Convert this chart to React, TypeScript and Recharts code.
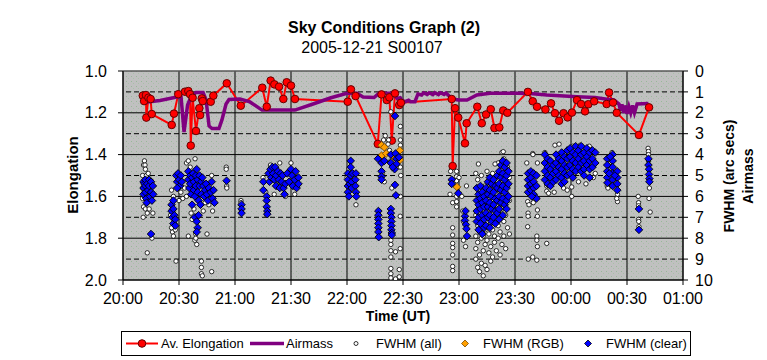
import React from 'react';
import { ComposedChart, Line, Scatter, XAxis, YAxis, CartesianGrid, ReferenceLine } from 'recharts';

const TIME_TICKS = [0, 30, 60, 90, 120, 150, 180, 210, 240, 270, 300];
const TIME_LABELS = ['20:00', '20:30', '21:00', '21:30', '22:00', '22:30', '23:00', '23:30', '00:00', '00:30', '01:00'];
const ELONG_TICKS = [1.0, 1.2, 1.4, 1.6, 1.8, 2.0];
const FWHM_TICKS = [0, 1, 2, 3, 4, 5, 6, 7, 8, 9, 10];
const FWHM_MINOR = [1, 3, 5, 7, 9];

// [minutes after 20:00 UT, elongation]
const AV_ELONGATION: [number, number][] = [
  [10.6, 1.118], [11.3, 1.144], [12.3, 1.115], [12.5, 1.223], [13.6, 1.128], [14.8, 1.134], [15.4, 1.206],
  [26.1, 1.258], [27.3, 1.204], [29.6, 1.111], [33.2, 1.099], [35.0, 1.096], [35.9, 1.111], [36.3, 1.357],
  [37.3, 1.128], [39.1, 1.287], [40.9, 1.178], [41.3, 1.211], [42.2, 1.131], [42.7, 1.144], [47.0, 1.147],
  [48.4, 1.118], [55.6, 1.059], [63.1, 1.166], [74.6, 1.08], [77.0, 1.171], [79.1, 1.046], [81.1, 1.064],
  [83.6, 1.075], [85.9, 1.134], [87.7, 1.054], [90.0, 1.07], [92.1, 1.134], [120.4, 1.147], [122.1, 1.088],
  [124.6, 1.12], [136.5, 1.349], [138.5, 1.112], [141.3, 1.139], [142.7, 1.126], [144.0, 1.333], [145.7, 1.107],
  [148.0, 1.163], [148.9, 1.152], [176.1, 1.134], [176.6, 1.455], [177.9, 1.178], [179.6, 1.223], [183.2, 1.346],
  [184.1, 1.25], [189.8, 1.171], [192.2, 1.25], [194.5, 1.208], [197.0, 1.183], [199.0, 1.273], [201.6, 1.27],
  [203.7, 1.189], [205.9, 1.2], [216.9, 1.1], [219.5, 1.145], [221.8, 1.171], [226.3, 1.184], [229.3, 1.155],
  [231.4, 1.202], [233.6, 1.238], [236.0, 1.202], [238.2, 1.222], [240.5, 1.199], [243.2, 1.139], [245.4, 1.158],
  [247.5, 1.193], [249.3, 1.159], [252.4, 1.145], [259.1, 1.158], [260.4, 1.103], [262.5, 1.151], [264.5, 1.2],
  [276.4, 1.306], [281.8, 1.174],
];

// [minutes after 20:00 UT, airmass]
const AIRMASS: [number, number][] = [
  [10.7, 1.151], [19.8, 1.141], [29.5, 1.123], [31.1, 1.124], [32.7, 1.292], [34.6, 1.163], [36.4, 1.124],
  [39.1, 1.103], [42.9, 1.103], [44.5, 1.139], [46.1, 1.263], [47.7, 1.275], [51.4, 1.275], [53.0, 1.234],
  [55.2, 1.158], [56.8, 1.136], [62.7, 1.134], [68.0, 1.148], [74.5, 1.187], [92.1, 1.187], [101.8, 1.158],
  [111.4, 1.128], [120.0, 1.107], [125.4, 1.107], [128.6, 1.124], [134.5, 1.127], [137.1, 1.107], [144.6, 1.107],
  [146.8, 1.131], [148.5, 1.128], [149.5, 1.14], [151.1, 1.147], [153.0, 1.14], [154.0, 1.147], [156.4, 1.147],
  [158.0, 1.11], [160.0, 1.115], [161.0, 1.105], [163.0, 1.112], [164.0, 1.104], [166.0, 1.113], [167.0, 1.104],
  [169.0, 1.113], [170.0, 1.104], [172.0, 1.112], [173.0, 1.105], [176.1, 1.131], [179.5, 1.139], [184.3, 1.139],
  [189.6, 1.115], [196.6, 1.107], [211.1, 1.107], [218.0, 1.108], [227.1, 1.115], [243.2, 1.123], [252.9, 1.127],
  [259.3, 1.135], [263.0, 1.139], [265.7, 1.158], [266.5, 1.19], [267.3, 1.16], [268.2, 1.2], [269.0, 1.165],
  [270.0, 1.205], [271.0, 1.17], [272.0, 1.2], [273.0, 1.165], [274.0, 1.2], [275.4, 1.158], [281.5, 1.155],
];

// [minutes after 20:00 UT, FWHM arcsec]
const FWHM_ALL: [number, number][] = [
  [11, 4.5], [11.5, 4.3], [10.5, 5.0], [10.5, 5.6], [10.5, 6.1], [11, 6.5], [10.8, 7.0], [12, 6.6], [13, 6.8],
  [12.5, 5.0], [13.5, 4.9], [14, 6.6], [16, 6.8], [13, 8.7], [15.5, 8.0], [11.5, 6.0], [11.8, 4.5], [12, 4.7],
  [26.5, 7.7], [27, 7.9], [26, 7.5], [28, 7.6], [28.4, 9.1], [25.5, 6.9],
  [31, 5.8], [32, 6.1], [33, 5.6], [34, 6.0], [30, 6.2], [27, 6.0], [26, 5.7], [34, 4.4], [35, 4.3], [36, 4.6],
  [38.6, 4.2], [36.5, 6.8], [37, 7.1], [38, 6.6], [38.5, 8.1], [39, 7.8], [39.5, 8.3], [39, 8.0], [42, 9.1],
  [42, 9.4], [42, 9.7], [42.5, 9.8], [47.5, 9.6], [35, 7.9], [45, 7.8], [48, 6.7], [47.5, 5.0], [46, 6.4],
  [43, 6.7], [44, 6.3],
  [55.3, 4.6], [55.3, 4.7], [55.5, 5.5], [55.6, 5.6],
  [63.2, 6.2], [63.2, 6.3],
  [75, 5.1], [77, 6.9], [76.5, 5.8],
  [79, 4.5], [84, 4.4], [90, 4.4], [92, 5.9], [87, 6.0], [81, 5.9],
  [124.8, 6.4], [120, 5.1], [121, 4.7],
  [143.5, 8.1], [143.5, 8.3], [143.5, 8.6], [146, 8.65], [148.5, 8.5], [143.5, 8.9], [143.5, 9.45], [143.5, 9.7],
  [143.5, 9.9], [148, 9.5], [148, 9.85], [146, 9.95], [148.5, 6.95],
  [140.5, 3.1], [139.6, 3.3], [142.3, 3.3], [142.0, 3.5], [142.8, 3.8], [143.5, 4.3], [148.6, 3.3], [148.6, 3.55],
  [148.6, 3.8], [148.6, 4.6], [148.8, 5.0], [143.5, 1.95], [148.6, 2.65], [139, 4.9], [140, 5.3], [144, 5.6], [148.6, 6.0],
  [175.5, 4.8], [175.2, 5.9], [176.6, 6.3], [176.6, 7.5], [176.6, 7.85], [176.6, 8.25], [176.6, 8.45], [176.6, 8.8],
  [176.6, 9.35], [176.6, 9.55], [178.7, 4.8], [178.7, 5.05], [178.7, 5.25], [178.7, 6.0], [178.7, 6.25], [178.7, 6.5],
  [182, 6.7], [182.4, 7.2], [182.4, 8.1], [183.5, 8.4], [180, 5.1], [181.5, 6.0], [184, 5.5], [190.4, 4.45],
  [189, 4.9], [189, 6.9], [189, 7.9], [189, 8.5], [189, 9.0], [190, 5.2], [190, 7.4], [190, 8.2], [190, 9.4],
  [191, 6.0], [191, 7.7], [191, 8.8], [191, 9.6], [192, 5.0], [192, 7.0], [192, 8.0], [192, 9.2],
  [193, 6.5], [193, 7.9], [193, 8.6], [193, 9.8], [194, 5.5], [194, 7.6], [194, 8.3], [194, 9.3],
  [195, 4.8], [195, 7.2], [195, 8.1], [195, 9.5], [196, 6.3], [196, 7.8], [196, 8.7], [197, 5.9], [197, 7.3],
  [197, 8.4], [197, 9.1], [198, 4.9], [198, 7.6], [198, 8.9], [199, 5.6], [199, 7.9], [199, 8.2],
  [200, 6.4], [200, 7.1], [200, 8.6], [201, 4.4], [201, 7.4], [201, 8.0], [202, 5.8], [202, 7.7], [202, 8.8],
  [203, 3.9], [203, 6.6], [203, 8.3], [204, 4.2], [204, 7.2], [204, 7.9], [205, 5.3], [205, 6.9], [205, 8.5],
  [206, 4.6], [206, 7.5], [207, 5.1], [207, 6.2], [207, 7.8], [199.3, 4.45], [203.7, 3.86],
  [216.3, 4.4], [216.8, 6.25], [217, 6.8], [217, 6.95], [216.8, 7.45], [219.5, 3.95], [219.8, 6.3], [222, 4.4],
  [222, 6.65], [222, 6.95], [221.7, 7.9], [221.7, 8.1], [222, 8.4], [219.5, 8.9], [217.1, 9.0], [221.7, 9.05],
  [227, 8.25], [217.5, 6.4], [219.6, 4.0],
  [231.4, 3.55], [233.6, 3.5], [227, 5.5], [227, 5.75], [228, 5.85], [231, 5.8], [240.4, 5.55], [240.4, 6.0],
  [236.5, 3.95], [241, 3.6], [245, 3.55], [249.8, 3.6], [252, 5.1], [253, 4.9], [226, 3.9], [229, 5.3],
  [236, 5.6], [244, 5.3], [248, 5.4], [238, 5.7],
  [259.4, 5.5], [262, 3.9], [264.9, 5.9], [264.9, 6.25], [259.8, 5.6], [264.5, 6.1],
  [276, 6.0], [276.2, 6.3], [276.2, 6.45], [276.2, 7.1], [276.3, 7.2], [276.4, 7.45],
  [281.3, 3.7], [281.5, 3.85], [281.5, 4.0], [282, 5.6], [281.8, 6.1], [282.4, 6.75], [281.5, 4.3],
];

const FWHM_RGB: [number, number][] = [
  [138.5, 3.55], [140, 3.65], [138.5, 4.05], [148.3, 3.8], [148.3, 4.26], [178.9, 5.55], [141, 3.95], [145, 4.1],
];

const FWHM_CLEAR: [number, number][] = [
  [11, 5.3], [11, 5.6], [11, 5.9], [11.5, 5.4], [12, 5.2], [12, 5.5], [12, 5.8], [12.5, 6.1], [12.7, 6.3], [13, 5.4],
  [13.5, 5.7], [14, 5.2], [14, 5.5], [14.5, 6.0], [15, 5.3], [15, 5.8], [15.5, 6.2], [16, 5.5], [16.2, 5.9], [15, 7.8],
  [26, 6.4], [26, 6.7], [26.5, 7.0], [27, 6.6], [27, 7.3], [27.5, 6.9], [28, 7.1], [28, 7.4], [27, 6.2],
  [28.5, 5.0], [29, 5.3], [29.5, 4.9], [30, 5.2], [30.5, 5.5], [31, 5.0], [31.5, 5.3], [29, 5.6],
  [35, 4.8], [35, 5.2], [35.5, 5.6], [36, 5.0], [36, 5.4], [36.5, 5.9], [37, 6.4], [37, 5.1], [37.5, 4.9], [38, 5.3],
  [38, 5.7], [38.5, 6.0], [39, 5.0], [39, 5.5], [39.5, 4.7], [40, 5.2], [40, 5.8], [40.5, 6.2], [41, 5.0], [41, 5.5],
  [41.5, 6.4], [42, 5.3], [42, 5.9], [42.5, 5.1], [43, 5.5], [43.5, 6.0], [44, 5.7], [44.5, 5.4], [45, 5.9], [45.5, 6.2],
  [46, 5.6], [47, 5.8], [47.5, 5.3], [48, 6.1], [48.5, 5.7], [49, 6.3], [38.5, 7.0], [39.5, 7.2], [40, 7.5], [39.5, 7.7],
  [40.5, 6.9],
  [55.5, 5.25],
  [63.5, 6.4], [63.5, 6.6], [63.5, 6.8],
  [75.2, 5.3], [75.2, 5.7], [77, 6.0], [77, 6.2], [77, 6.5], [77.3, 6.7], [77.3, 6.85],
  [78, 4.9], [78.5, 5.3], [79, 4.7], [79.5, 5.1], [80, 4.6], [80.5, 4.9], [81, 5.2], [81.5, 4.6], [82, 5.0], [82, 5.5],
  [83, 4.8], [83.5, 5.2], [84, 5.6], [84.5, 4.9], [85, 5.3], [85.5, 5.0], [86, 5.6], [86.5, 5.9], [87, 5.4], [88, 4.9],
  [89, 5.3], [90, 4.7], [90.5, 5.0], [91, 5.5], [92, 5.2], [92.5, 4.8], [93, 5.6], [94, 5.1], [94, 5.4],
  [120.5, 4.9], [120.5, 5.2], [120.5, 5.5], [120.5, 5.8], [121, 6.0], [121.5, 5.4], [122, 4.3], [122, 4.6], [122, 5.0],
  [122.5, 5.3], [122.5, 5.6], [123, 4.9], [124.5, 5.2], [124.5, 5.5], [124.8, 5.8], [125, 6.0], [124.8, 4.9],
  [136.8, 6.7], [136.8, 6.9], [136.8, 7.1], [136.8, 7.3], [136.8, 7.5], [136.8, 7.7], [137, 7.95],
  [143.5, 6.6], [143.5, 6.8], [143.8, 7.0], [143.8, 7.2], [143.8, 7.4], [143.8, 7.6], [144, 7.75], [144, 7.85],
  [136.6, 4.2], [138.5, 4.4], [138.5, 4.8], [138.5, 5.05], [138.5, 5.2], [143.5, 4.4], [143.5, 4.0], [146, 3.95],
  [146.5, 4.2], [146.5, 4.45], [145.5, 4.7], [147.8, 4.13], [145.7, 5.45], [146.2, 5.95], [145.7, 2.15], [144.5, 4.6], [140, 4.3],
  [176.1, 5.2], [176.1, 5.4], [179.6, 5.85], [183.2, 6.95], [183.2, 7.15], [183.7, 7.35], [184, 7.55], [184.3, 7.9], [183.5, 6.7],
  [189.5, 5.6], [189.5, 6.2], [189.5, 6.7], [189.5, 7.2], [190.5, 5.9], [190.5, 6.4], [190.5, 7.0], [190.5, 7.6],
  [191.5, 5.5], [191.5, 6.1], [191.5, 6.6], [191.5, 7.3], [192.5, 5.8], [192.5, 6.3], [192.5, 6.9], [192.5, 7.8],
  [193.5, 6.0], [193.5, 6.5], [193.5, 7.1], [193.5, 7.5], [194.5, 5.6], [194.5, 6.2], [194.5, 6.8], [194.5, 7.4],
  [195.5, 5.3], [195.5, 5.9], [195.5, 6.5], [195.5, 7.0], [196.5, 5.1], [196.5, 5.7], [196.5, 6.3], [196.5, 6.9],
  [196.5, 7.5], [197.5, 5.4], [197.5, 6.0], [197.5, 6.6], [197.5, 7.2], [198.5, 5.2], [198.5, 5.8], [198.5, 6.4],
  [198.5, 7.0], [199.5, 5.5], [199.5, 6.1], [199.5, 6.7], [199.5, 7.3], [200.5, 5.0], [200.5, 5.6], [200.5, 6.2],
  [200.5, 6.8], [201.5, 4.8], [201.5, 5.4], [201.5, 6.0], [201.5, 6.6], [201.5, 7.1], [202.5, 4.5], [202.5, 5.1],
  [202.5, 5.7], [202.5, 6.3], [203.5, 4.3], [203.5, 4.9], [203.5, 5.5], [203.5, 6.1], [203.5, 6.9], [204.5, 4.6],
  [204.5, 5.2], [204.5, 5.8], [204.5, 6.4], [205.5, 4.4], [205.5, 5.0], [205.5, 5.6], [205.5, 6.2], [205.5, 6.6],
  [206.5, 4.8], [206.5, 5.4], [206.5, 6.0],
  [217, 4.9], [217, 5.2], [217, 5.5], [217, 5.8], [218.5, 4.8], [218.5, 5.1], [218.5, 5.4], [218.5, 5.7], [220, 4.9],
  [220, 5.3], [220, 5.6], [220, 5.9], [221.5, 5.0], [221.5, 5.5], [221.5, 6.1], [219, 6.0],
  [226, 4.0], [226, 4.4], [226, 4.8], [226, 5.2], [227.5, 4.2], [227.5, 4.6], [227.5, 5.0], [227.5, 5.4],
  [229, 4.3], [229, 4.7], [229, 5.1], [229, 5.5], [230.5, 4.5], [230.5, 4.9], [230.5, 5.3], [232, 4.0], [232, 4.4],
  [232, 4.8], [232, 5.2], [233.5, 4.2], [233.5, 4.6], [233.5, 5.0], [235, 3.9], [235, 4.3], [235, 4.7], [235, 5.1],
  [235, 5.4], [236.5, 4.1], [236.5, 4.5], [236.5, 4.9], [236.5, 5.3], [238, 3.8], [238, 4.2], [238, 4.6], [238, 5.0],
  [239.5, 3.7], [239.5, 4.1], [239.5, 4.5], [239.5, 4.9], [241, 3.9], [241, 4.3], [241, 4.7], [241, 5.1],
  [242.5, 3.6], [242.5, 4.0], [242.5, 4.4], [242.5, 4.8], [244, 3.8], [244, 4.2], [244, 4.6], [245.5, 3.6],
  [245.5, 4.0], [245.5, 4.4], [245.5, 4.8], [247, 3.9], [247, 4.3], [247, 4.7], [247, 5.0], [248.5, 3.7],
  [248.5, 4.1], [248.5, 4.5], [250, 3.9], [250, 4.3], [250, 4.7], [250, 5.1], [251.5, 3.8], [251.5, 4.2],
  [251.5, 4.6], [253, 3.9], [253, 4.4],
  [259.4, 4.2], [259.4, 4.5], [259.4, 4.8], [259.4, 5.1], [262.3, 4.0], [262.3, 4.3], [262.3, 4.6], [262.3, 4.9],
  [262.3, 5.2], [262.3, 5.5], [264.8, 4.8], [264.8, 5.1], [264.8, 5.4], [264.8, 5.7], [260.5, 4.9], [261, 4.1],
  [263.5, 5.0], [259.5, 5.35],
  [276.4, 6.6], [276.4, 7.6],
  [281.5, 4.2], [281.5, 4.5], [281.8, 4.7], [281.8, 4.95], [282, 5.15], [282, 5.3],
];

const elongData = AV_ELONGATION.map(([t, e]) => ({ t, e }));
const airmassData = AIRMASS.map(([t, a]) => ({ t, a }));
const allData = FWHM_ALL.map(([t, f]) => ({ t, f }));
const rgbData = FWHM_RGB.map(([t, f]) => ({ t, f }));
const clearData = FWHM_CLEAR.map(([t, f]) => ({ t, f }));

const FONT = "'Liberation Sans', Arial, Helvetica, sans-serif";

const diamondShape = (fill: string, stroke: string) => (props: any) => {
  const { cx, cy } = props;
  if (cx == null || cy == null) return <g />;
  const s = 3.8;
  return (
    <polygon
      points={`${cx},${cy - s} ${cx + s},${cy} ${cx},${cy + s} ${cx - s},${cy}`}
      fill={fill}
      stroke={stroke}
      strokeWidth={0.9}
    />
  );
};

const circleShape = (props: any) => {
  const { cx, cy } = props;
  if (cx == null || cy == null) return <g />;
  return <circle cx={cx} cy={cy} r={2.2} fill="#fff" stroke="#000" strokeWidth={0.8} />;
};

const redDot = (props: any) => {
  const { cx, cy, index } = props;
  return <circle key={`rd-${index}`} cx={cx} cy={cy} r={3.8} fill="#ff0000" stroke="#600" strokeWidth={1} />;
};

export default function App() {
  const tickStyle = { fill: '#000', fontSize: 16, fontFamily: FONT };
  return (
    <div style={{ position: 'absolute', left: 0, top: 0, width: 767, height: 360, background: '#fff' }}>
      <ComposedChart width={767} height={360} margin={{ top: 71, right: 24, bottom: 50, left: 63 }}>
        <defs>
          <pattern id="plotDots" width="5" height="5" patternUnits="userSpaceOnUse">
            <rect width="5" height="5" fill="#c0c0c0" />
            <rect x="1" y="1" width="1" height="1" fill="#98b898" />
            <rect x="3" y="3" width="1" height="1" fill="#a8c0a8" />
          </pattern>
        </defs>
        <CartesianGrid
          yAxisId="elong"
          stroke="#000"
          strokeWidth={1}
          fill="url(#plotDots)"
          fillOpacity={1}
        />
        {FWHM_MINOR.map((v) => (
          <ReferenceLine key={`m${v}`} yAxisId="fwhm" y={v} stroke="#000" strokeDasharray="5 3" strokeWidth={1} />
        ))}
        <ReferenceLine yAxisId="elong" y={1.0} stroke="#808080" strokeWidth={1} />
        <XAxis
          type="number"
          dataKey="t"
          domain={[0, 300]}
          allowDataOverflow
          ticks={TIME_TICKS}
          tickFormatter={(v: number) => TIME_LABELS[TIME_TICKS.indexOf(v)]}
          interval={0}
          height={30}
          tick={tickStyle}
          tickSize={5}
          tickMargin={8}
          stroke="#000"
          axisLine={{ stroke: '#000' }}
          tickLine={{ stroke: '#000' }}
        />
        <YAxis
          yAxisId="elong"
          type="number"
          orientation="left"
          domain={[1, 2]}
          allowDataOverflow
          reversed
          ticks={ELONG_TICKS}
          tickFormatter={(v: number) => v.toFixed(1)}
          interval={0}
          width={60}
          tick={tickStyle}
          tickSize={5}
          tickMargin={11}
          axisLine={{ stroke: '#000' }}
          tickLine={{ stroke: '#000' }}
        />
        <YAxis
          yAxisId="fwhm"
          type="number"
          orientation="right"
          domain={[0, 10]}
          allowDataOverflow
          reversed
          ticks={FWHM_TICKS}
          interval={0}
          width={60}
          tick={tickStyle}
          tickSize={5}
          tickMargin={7}
          axisLine={{ stroke: '#000' }}
          tickLine={{ stroke: '#000' }}
        />
        <Line
          data={elongData}
          yAxisId="elong"
          dataKey="e"
          type="linear"
          stroke="#ff0000"
          strokeWidth={2}
          dot={redDot}
          activeDot={false}
          isAnimationActive={false}
        />
        <Line
          data={airmassData}
          yAxisId="elong"
          dataKey="a"
          type="linear"
          stroke="#800080"
          strokeWidth={3.5}
          dot={false}
          activeDot={false}
          isAnimationActive={false}
        />
        <Scatter data={allData} yAxisId="fwhm" dataKey="f" shape={circleShape} isAnimationActive={false} />
        <Scatter data={rgbData} yAxisId="fwhm" dataKey="f" shape={diamondShape('#ffa000', '#7a4a00')} isAnimationActive={false} />
        <Scatter data={clearData} yAxisId="fwhm" dataKey="f" shape={diamondShape('#0000ff', '#000')} isAnimationActive={false} />
      </ComposedChart>
      <svg width={767} height={360} style={{ position: 'absolute', left: 0, top: 0, pointerEvents: 'none' }} fontFamily={FONT}>
        <text x={384} y={32.5} textAnchor="middle" fontSize={16} fontWeight="bold" fill="#000">Sky Conditions Graph (2)</text>
        <text x={372} y={52.5} textAnchor="middle" fontSize={16} fill="#000">2005-12-21 S00107</text>
        <text x={398} y={321} textAnchor="middle" fontSize={14} fontWeight="bold" fill="#000">Time (UT)</text>
        <text x={78} y={175} textAnchor="middle" fontSize={15} fontWeight="bold" fill="#000" transform="rotate(-90 78 175)">Elongation</text>
        <text x={734} y={176} textAnchor="middle" fontSize={14} fontWeight="bold" fill="#000" transform="rotate(-90 734 176)">FWHM (arc secs)</text>
        <text x={753} y={176} textAnchor="middle" fontSize={14} fontWeight="bold" fill="#000" transform="rotate(-90 753 176)">Airmass</text>
        <g>
          <rect x={121.5} y={331.5} width={569} height={24} fill="#fff" stroke="#000" strokeWidth={1} />
          <line x1={126} y1={343.5} x2={158} y2={343.5} stroke="#ff0000" strokeWidth={2} />
          <circle cx={142} cy={343.5} r={3.8} fill="#ff0000" stroke="#600" strokeWidth={1} />
          <text x={161} y={348} fontSize={13} fill="#000">Av. Elongation</text>
          <line x1={250} y1={343.5} x2={284} y2={343.5} stroke="#800080" strokeWidth={3.5} />
          <text x={286} y={348} fontSize={13} fill="#000">Airmass</text>
          <circle cx={356} cy={343.5} r={2} fill="#fff" stroke="#000" strokeWidth={0.8} />
          <text x={376} y={348} fontSize={13} fill="#000">FWHM (all)</text>
          <polygon points="465,340 468.5,343.5 465,347 461.5,343.5" fill="#ffa000" stroke="#7a4a00" strokeWidth={0.8} />
          <text x={483} y={348} fontSize={13} fill="#000">FWHM (RGB)</text>
          <polygon points="588,340 591.5,343.5 588,347 584.5,343.5" fill="#0000ff" stroke="#000" strokeWidth={0.8} />
          <text x={606} y={348} fontSize={13} fill="#000">FWHM (clear)</text>
        </g>
      </svg>
    </div>
  );
}
